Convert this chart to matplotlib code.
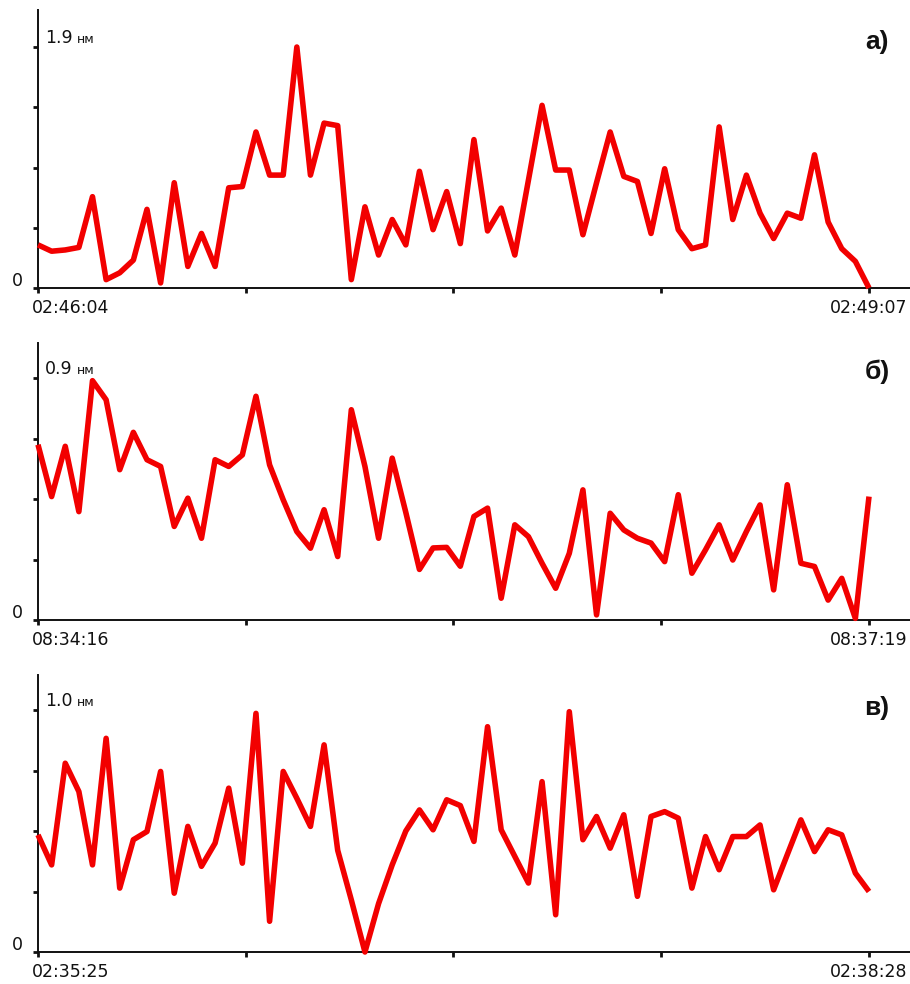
import numpy as np
import matplotlib
matplotlib.use("Agg")
import matplotlib.pyplot as plt
from matplotlib.transforms import ScaledTranslation

# ---- data: amplitude (nm) sampled every 3 s over 183 s ----
step_s = 3
amp_a = [0.34, 0.29, 0.30, 0.32, 0.72, 0.066, 0.12, 0.22, 0.62, 0.04,
         0.83, 0.17, 0.43, 0.17, 0.79, 0.80, 1.23, 0.89, 0.89, 1.90,
         0.89, 1.30, 1.28, 0.066, 0.64, 0.26, 0.54, 0.34, 0.92, 0.46,
         0.76, 0.35, 1.17, 0.45, 0.63, 0.26, 0.85, 1.44, 0.93, 0.93,
         0.42, 0.83, 1.23, 0.88, 0.84, 0.43, 0.94, 0.46, 0.31, 0.34,
         1.27, 0.54, 0.89, 0.59, 0.39, 0.59, 0.55, 1.05, 0.52, 0.31,
         0.21, 0.0]
amp_b = [0.652, 0.459, 0.646, 0.403, 0.89, 0.819, 0.559, 0.698, 0.596, 0.571,
         0.348, 0.453, 0.304, 0.596, 0.571, 0.614, 0.832, 0.577, 0.447, 0.329,
         0.267, 0.410, 0.236, 0.782, 0.571, 0.304, 0.602, 0.40, 0.188, 0.268,
         0.27, 0.20, 0.385, 0.416, 0.081, 0.354, 0.310, 0.211, 0.118, 0.248,
         0.484, 0.019, 0.397, 0.335, 0.304, 0.286, 0.217, 0.466, 0.174, 0.261,
         0.354, 0.223, 0.329, 0.428, 0.112, 0.503, 0.211, 0.199, 0.074, 0.155,
         0.006, 0.459]
amp_c = [0.484, 0.360, 0.780, 0.663, 0.360, 0.883, 0.264, 0.464, 0.498, 0.746,
         0.243, 0.519, 0.354, 0.450, 0.677, 0.367, 0.986, 0.127, 0.746, 0.635,
         0.519, 0.856, 0.42, 0.215, 0.0, 0.20, 0.36, 0.50, 0.587, 0.505,
         0.629, 0.605, 0.457, 0.931, 0.505, 0.395, 0.285, 0.704, 0.154, 0.993,
         0.464, 0.560, 0.429, 0.567, 0.230, 0.560, 0.580, 0.553, 0.264, 0.477,
         0.340, 0.477, 0.477, 0.525, 0.257, 0.402, 0.546, 0.415, 0.505, 0.484,
         0.326, 0.250]

scale_max = [1.9, 0.9, 1.0]
time_start = ["02:46:04", "08:34:16", "02:35:25"]
time_end = ["02:49:07", "08:37:19", "02:38:28"]
panel_tags = ["а)", "б)", "в)"]
series = [amp_a, amp_b, amp_c]

# ---- layout (pixels) ----
W, H = 910, 984
DPI = 100
spine_x = 38
# (top of y spine, x-axis line, top tick) for each panel
rows = [(10, 288, 47), (343, 620, 378), (675, 952, 710)]
data_right_px = 869

fig = plt.figure(figsize=(W / DPI, H / DPI), dpi=DPI)
fig.patch.set_facecolor("white")

font = "DejaVu Sans"
red = "#f20000"

for k in range(3):
    top_px, base_px, tick_px = rows[k]
    vals = np.asarray(series[k], dtype=float)
    t = np.arange(len(vals)) * step_s
    t_end = t[-1]
    vmax = scale_max[k]

    ax = fig.add_axes([spine_x / W, 1 - base_px / H,
                       (W - spine_x) / W, (base_px - top_px) / H])
    ax.set_facecolor("none")

    x_right = (W - spine_x) / (data_right_px - spine_x) * t_end
    y_top = (base_px - top_px) / (base_px - tick_px) * vmax
    ax.set_xlim(0, x_right)
    ax.set_ylim(0, y_top)

    ax.plot(t, vals, color=red, lw=4.0, solid_joinstyle="round",
            solid_capstyle="butt", clip_on=False, zorder=3)

    for side in ("top", "right"):
        ax.spines[side].set_visible(False)
    for side in ("left", "bottom"):
        ax.spines[side].set_color("#111111")
        ax.spines[side].set_linewidth(1.4)

    # ticks
    ax.set_xticks(np.linspace(0, t_end, 5))
    ax.set_xticklabels([time_start[k], "", "", "", time_end[k]],
                       family=font, fontsize=12.5, color="#111111")
    ax.set_yticks(np.linspace(0, vmax, 5))
    ax.set_yticklabels(["0", "", "", "", ""], family=font,
                       fontsize=12.5, color="#111111")
    ax.tick_params(axis="both", direction="out", length=3.8, width=2.0,
                   color="#111111")
    ax.tick_params(axis="x", pad=4)
    ax.tick_params(axis="y", pad=7)

    xl = ax.get_xticklabels()
    xl[0].set_horizontalalignment("left")
    xl[0].set_transform(xl[0].get_transform() +
                        ScaledTranslation(-6 / DPI, 0, fig.dpi_scale_trans))
    yl = ax.get_yticklabels()
    yl[0].set_transform(yl[0].get_transform() +
                        ScaledTranslation(0, 9 / DPI, fig.dpi_scale_trans))

    # scale annotation next to the top tick
    ax.annotate(f"{vmax:.1f}", xy=(0, vmax), xycoords=("axes fraction", "data"),
                xytext=(7, 4), textcoords="offset pixels",
                ha="left", va="baseline", family=font, fontsize=12.5,
                color="#111111")
    ax.annotate("нм", xy=(0, vmax), xycoords=("axes fraction", "data"),
                xytext=(39, 4), textcoords="offset pixels",
                ha="left", va="baseline", family=font, fontsize=9,
                color="#111111")

    # panel tag
    tag_y = [42, 372, 708][k]
    fig.text(877 / W, 1 - tag_y / H, panel_tags[k], ha="center", va="center",
             family="Liberation Sans", fontweight="bold", fontsize=19,
             color="#111111")

fig.savefig("out.png", dpi=DPI, facecolor="white")
